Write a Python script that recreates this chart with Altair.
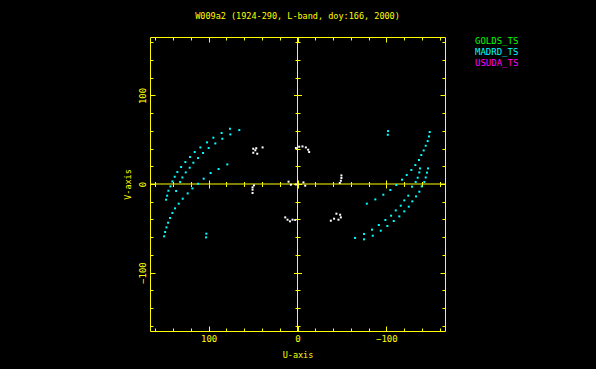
import altair as alt
import pandas as pd

TITLE = "W009a2 (1924-290, L-band, doy:166, 2000)"
stations = ["GOLDS_TS", "MADRD_TS", "USUDA_TS"]
station_colors = ["#00ff00", "#00ffff", "#ff00ff"]
other_label = "other"
other_color = "#ffffff"

# MADRD_TS (cyan) uv-track points
madrd_u = [76.0, 65.5, 85.4, 75.6, 94.7, 84.6, 101.8, 92.5, 109.3, 100.0, 115.7, 106.3,
           120.9, 111.9, 126.2, 117.2, 131.0, 121.3, 79.0, 88.8, 135.2, 125.8, 97.8, 138.2,
           129.6, 105.6, 140.8, 132.1, 111.9, 143.0, 118.3, 145.3, 136.6, 123.6, 146.7, 129.2,
           147.9, 133.7, 137.8, 140.8, 143.4, 145.6, 147.5, 149.0, 150.1, 102.6, 102.9,
           -101.9, -101.6, -148.8, -148.0, -146.5, -144.3, -142.0, -139.3, -136.7, -132.6,
           -146.9, -137.9, -128.1, -145.7, -137.1, -122.9, -144.3, -135.3, -117.6, -142.7,
           -133.0, -111.2, -139.8, -128.9, -104.5, -137.1, -124.7, -96.6, -133.4, -120.2,
           -87.6, -129.2, -116.2, -78.0, -125.2, -110.6, -120.2, -105.3, -114.6, -98.9,
           -108.3, -91.5, -101.1, -83.9, -93.7, -74.9, -84.7, -64.8, -74.9]
madrd_v = [62.4, 60.9, 57.6, 56.0, 52.3, 51.1, 47.0, 45.8, 41.3, 40.6, 36.1, 35.0,
           30.5, 29.3, 24.8, 24.0, 19.2, 18.4, 22.1, 16.9, 13.5, 13.1, 12.4, 8.2,
           7.4, 6.0, 2.9, 2.3, 0.3, -2.7, -5.0, -7.6, -7.9, -10.6, -13.2, -16.6,
           -17.7, -22.2, -27.5, -32.7, -38.4, -43.7, -49.0, -54.2, -59.1, -56.1, -60.3,
           59.8, 55.6, 58.7, 53.7, 48.5, 43.2, 37.9, 32.7, 27.1, 21.4,
           17.6, 17.6, 15.8, 12.8, 13.1, 10.2, 7.4, 7.1, 4.9, 2.3,
           2.3, -1.1, -2.7, -3.0, -6.8, -8.7, -13.2, -12.1, -14.0, -18.5,
           -17.4, -19.6, -24.5, -22.2, -25.6, -29.8, -30.9, -35.8, -36.6, -40.6,
           -41.8, -46.3, -47.4, -51.6, -52.7, -56.4, -58.4, -60.9, -62.5]

# white short-baseline points
other_u = [49.8, 46.4, 39.3, 47.5, 49.8, 45.3, 10.1, 7.4, 1.8, 49.0, 50.6, 50.6,
           50.6, 13.8, 11.2, 8.5, 5.6, 2.6, 1.8, -1.9, -5.6, -9.4, -12.0, -13.1,
           -49.4, -49.4, -48.8, -47.6, -6.7, -8.7, -43.8, -48.0, -48.8, -46.1, -41.2, -37.5]
other_v = [39.8, 40.4, 41.3, 38.1, 35.3, 34.2, 2.6, -0.8, -0.5, -1.6, -3.8, -6.4,
           -10.2, -37.7, -40.3, -42.2, -40.3, -40.6, 40.6, 42.1, 42.4, 41.3, 38.7, 36.1,
           9.7, 6.8, 3.7, 1.1, 1.8, -1.9, -33.5, -34.7, -37.7, -40.3, -39.2, -41.4]

major_vals = [-100, 0, 100]
minor_vals = [-160, -140, -120, -80, -60, -40, -20, 20, 40, 60, 80, 120, 140, 160]

W, H = 295, 294
LIM = 166
YEL = "#ffff00"
FONT = "DejaVu Sans Mono"

df = pd.DataFrame({
    "u": madrd_u + other_u,
    "v": madrd_v + other_v,
    "station": ["MADRD_TS"] * len(madrd_u) + [other_label] * len(other_u),
})
origin = pd.DataFrame({"u": [0.0], "v": [0.0]})

xs = alt.Scale(domain=[-LIM, LIM], reverse=True, nice=False, zero=False)
ys = alt.Scale(domain=[-LIM, LIM], nice=False, zero=False)

label_color_expr = " : ".join(
    f"datum.value === '{s}' ? '{c}'" for s, c in zip(stations[:-1], station_colors[:-1])
) + f" : '{station_colors[-1]}'"

x_label_axis = alt.Axis(orient="bottom", values=major_vals, ticks=False, domain=False, grid=False,
                        labelColor=YEL, labelFont=FONT, labelFontSize=9, labelPadding=3,
                        labelFlush=False, title="U-axis", titleColor=YEL, titleFont=FONT,
                        titleFontSize=8.5, titleFontWeight="normal", titlePadding=7)
y_label_axis = alt.Axis(orient="left", values=major_vals, ticks=False, domain=False, grid=False,
                        labelColor=YEL, labelFont=FONT, labelFontSize=9, labelPadding=3,
                        labelAngle=270, labelAlign="center", labelBaseline="bottom",
                        labelFlush=False, title="V-axis", titleColor=YEL, titleFont=FONT,
                        titleFontSize=8.5, titleFontWeight="normal", titlePadding=6)


def tick_axis(orient, offset, values, size):
    return alt.Axis(orient=orient, offset=offset, values=values, tickSize=size, ticks=True,
                    labels=False, domain=False, grid=False, title=None,
                    tickColor=YEL, tickWidth=1)


x_tick_specs = [("top", -H, minor_vals, 3), ("top", -H, major_vals, 5),
                ("bottom", -H, minor_vals, 3), ("bottom", -H, major_vals, 5),
                ("top", -H / 2, minor_vals, 2.5), ("top", -H / 2, major_vals, 4),
                ("bottom", -H / 2, minor_vals, 2.5), ("bottom", -H / 2, major_vals, 4)]
y_tick_specs = [("right", -W, minor_vals, 3), ("right", -W, major_vals, 5),
                ("left", -W, minor_vals, 3), ("left", -W, major_vals, 5),
                ("right", -W / 2, minor_vals, 2.5), ("right", -W / 2, major_vals, 4),
                ("left", -W / 2, minor_vals, 2.5), ("left", -W / 2, major_vals, 4)]

tick_layers = []
for xsp, ysp in zip(x_tick_specs, y_tick_specs):
    tick_layers.append(
        alt.Chart(origin).mark_point(opacity=0).encode(
            x=alt.X("u:Q", scale=xs, axis=tick_axis(*xsp)),
            y=alt.Y("v:Q", scale=ys, axis=tick_axis(*ysp)),
        )
    )

vline = alt.Chart(origin).mark_rule(color=YEL, strokeWidth=1).encode(
    x=alt.X("u:Q", scale=xs, axis=None))
hline = alt.Chart(origin).mark_rule(color=YEL, strokeWidth=1).encode(
    y=alt.Y("v:Q", scale=ys, axis=None))

points = alt.Chart(df).mark_square(size=4, opacity=1).encode(
    x=alt.X("u:Q", scale=xs, axis=x_label_axis),
    y=alt.Y("v:Q", scale=ys, axis=y_label_axis),
    color=alt.Color(
        "station:N",
        scale=alt.Scale(domain=stations + [other_label], range=station_colors + [other_color]),
        legend=alt.Legend(orient="none", legendX=316, legendY=-1, values=stations, title=None,
                          symbolSize=0, symbolOpacity=0, symbolStrokeWidth=0, labelOffset=0,
                          labelFont=FONT, labelFontSize=9, rowPadding=1, padding=0,
                          labelColor=alt.ExprRef(expr=label_color_expr)),
    ),
)

chart = alt.layer(vline, hline, points, *tick_layers).resolve_axis(
    x="independent", y="independent"
).properties(
    width=W, height=H,
    title=alt.TitleParams(TITLE, color=YEL, font=FONT, fontSize=8.5, fontWeight="normal",
                          anchor="middle", offset=16),
    background="#000000",
    padding={"left": 142, "top": 29, "right": 140, "bottom": 30},
    autosize=alt.AutoSizeParams(type="none"),
).configure_view(stroke=YEL, strokeWidth=1)

chart.save("out.html", embed_options={"renderer": "svg", "actions": False,
                                      "defaultStyle": "body{background:#000000;}"})
